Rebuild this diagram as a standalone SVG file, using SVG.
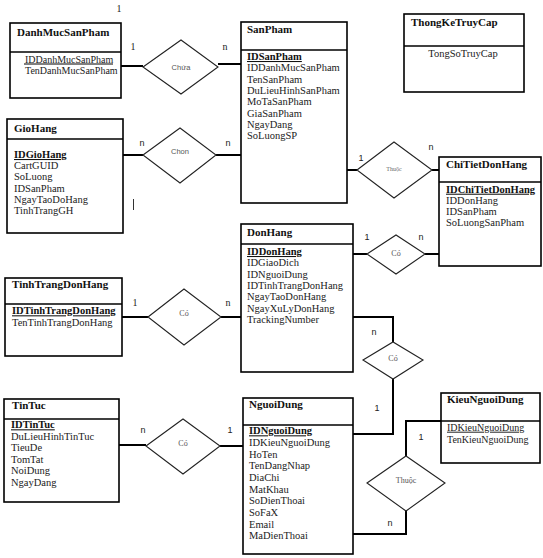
<svg xmlns="http://www.w3.org/2000/svg" width="543" height="558" viewBox="0 0 543 558">
<style>
.box{fill:#fff;stroke:#000;stroke-width:1.6}
.div{stroke:#000;stroke-width:1.6}
.t{font-family:"Liberation Serif",serif;font-size:11px;font-weight:bold;fill:#111}
.a{font-family:"Liberation Serif",serif;font-size:10.5px;fill:#222}
.a10{font-family:"Liberation Serif",serif;font-size:10px;fill:#222}
.k{font-family:"Liberation Serif",serif;font-size:10.5px;font-weight:bold;fill:#111;text-decoration:underline}
.ku{font-family:"Liberation Serif",serif;font-size:10px;fill:#222;text-decoration:underline}
.dm{fill:#fff;stroke:#222;stroke-width:1.1}
.dl{font-family:"Liberation Sans",sans-serif;font-size:7.5px;fill:#555;text-anchor:middle}
.ds{font-family:"Liberation Serif",serif;font-size:8px;fill:#555;text-anchor:middle}
.dt{font-family:"Liberation Serif",serif;font-size:6px;fill:#666;text-anchor:middle}
.c{font-family:"Liberation Sans",sans-serif;font-size:9px;fill:#222;text-anchor:middle}
.cs{font-family:"Liberation Serif",serif;font-size:10px;fill:#222;text-anchor:middle}
.ln{fill:none;stroke:#000;stroke-width:2}
</style>

<g id="connectors">
<line class="ln" x1="121" y1="66" x2="143" y2="66"/>
<line class="ln" x1="218" y1="64" x2="241" y2="64"/>
<line class="ln" x1="123" y1="155" x2="143" y2="155"/>
<line class="ln" x1="216" y1="155" x2="241" y2="155"/>
<line class="ln" x1="347" y1="170" x2="357" y2="170"/>
<line class="ln" x1="432" y1="170" x2="439" y2="170"/>
<line class="ln" x1="353" y1="254" x2="367" y2="254"/>
<line class="ln" x1="425" y1="254" x2="439" y2="254"/>
<line class="ln" x1="122" y1="317" x2="148" y2="317"/>
<line class="ln" x1="221" y1="317" x2="241" y2="317"/>
<polyline class="ln" points="353,317 393,317 393,342"/>
<polyline class="ln" points="393,379 393,434 353,434"/>
<line class="ln" x1="119" y1="445" x2="146" y2="445"/>
<line class="ln" x1="220" y1="446" x2="243" y2="446"/>
<polyline class="ln" points="353,534 406,534 406,511"/>
<polyline class="ln" points="406,456 406,421 441,421"/>
<line x1="133.5" y1="199" x2="133.5" y2="210" stroke="#333" stroke-width="1"/>
</g>

<text class="cs" x="119" y="12">1</text>

<g id="DanhMucSanPham">
<rect class="box" x="10" y="23" width="111" height="75"/>
<line class="div" x1="10" y1="52" x2="121" y2="52"/>
<text class="t" x="17" y="36">DanhMucSanPham</text>
<text class="a10" x="25" y="62.5">IDDanhMucSanPham</text>
<line x1="24" y1="64" x2="113" y2="64" stroke="#000" stroke-width="1"/>
<text class="a10" x="25" y="73.5">TenDanhMucSanPham</text>
</g>

<g id="Chua">
<polygon class="dm" points="143,67 181,40 218,67 181,94"/>
<text class="dl" x="181" y="70">Chứa</text>
<text class="cs" x="133" y="50">1</text>
<text class="cs" x="225" y="50">n</text>
</g>

<g id="SanPham">
<rect class="box" x="241" y="22" width="106" height="181"/>
<line class="div" x1="241" y1="50" x2="347" y2="50"/>
<text class="t" x="247" y="32.5">SanPham</text>
<text class="k" x="247" y="60">IDSanPham</text>
<text class="a" x="247" y="71.3">IDDanhMucSanPham</text>
<text class="a" x="247" y="82.7">TenSanPham</text>
<text class="a" x="247" y="94">DuLieuHinhSanPham</text>
<text class="a" x="247" y="105.3">MoTaSanPham</text>
<text class="a" x="247" y="116.7">GiaSanPham</text>
<text class="a" x="247" y="128">NgayDang</text>
<text class="a" x="247" y="139.3">SoLuongSP</text>
</g>

<g id="ThongKeTruyCap">
<rect class="box" x="404" y="14" width="120" height="78"/>
<line class="div" x1="404" y1="46" x2="524" y2="46"/>
<text class="t" x="411" y="25.5">ThongKeTruyCap</text>
<text class="a" x="463" y="57" text-anchor="middle">TongSoTruyCap</text>
</g>

<g id="GioHang">
<rect class="box" x="7" y="119" width="116" height="114"/>
<line class="div" x1="7" y1="139" x2="123" y2="139"/>
<text class="t" x="14" y="131.5">GioHang</text>
<text class="k" x="14" y="158">IDGioHang</text>
<text class="a" x="14" y="169">CartGUID</text>
<text class="a" x="14" y="180.3">SoLuong</text>
<text class="a" x="14" y="191.6">IDSanPham</text>
<text class="a" x="14" y="203">NgayTaoDoHang</text>
<text class="a" x="14" y="214.3">TinhTrangGH</text>
</g>

<g id="Chon">
<polygon class="dm" points="143,155 180,128 216,155 180,183"/>
<text class="dl" x="180" y="153.5">Chon</text>
<text class="c" x="142" y="146">n</text>
<text class="c" x="228" y="146">n</text>
</g>

<g id="Thuoc1">
<polygon class="dm" points="357,170 394,142 432,170 394,198"/>
<text class="dt" x="394" y="171">Thuộc</text>
<text class="c" x="361" y="161">1</text>
<text class="c" x="431" y="150">n</text>
</g>

<g id="ChiTietDonHang">
<rect class="box" x="439" y="157" width="102" height="109"/>
<line class="div" x1="439" y1="182" x2="541" y2="182"/>
<text class="t" x="446" y="168.3">ChiTietDonHang</text>
<text class="k" x="446" y="192.7">IDChiTietDonHang</text>
<text class="a" x="446" y="203.9">IDDonHang</text>
<text class="a" x="446" y="215.1">IDSanPham</text>
<text class="a" x="446" y="226.3">SoLuongSanPham</text>
</g>

<g id="DonHang">
<rect class="box" x="241" y="224" width="112" height="148"/>
<line class="div" x1="241" y1="244" x2="353" y2="244"/>
<text class="t" x="247" y="235.7">DonHang</text>
<text class="k" x="247" y="255">IDDonHang</text>
<text class="a" x="247" y="266.3">IDGiaoDich</text>
<text class="a" x="247" y="277.6">IDNguoiDung</text>
<text class="a" x="247" y="289">IDTinhTrangDonHang</text>
<text class="a" x="247" y="300.3">NgayTaoDonHang</text>
<text class="a" x="247" y="311.6">NgayXuLyDonHang</text>
<text class="a" x="247" y="323">TrackingNumber</text>
</g>

<g id="Co1">
<polygon class="dm" points="367,254 396,235 425,254 396,274"/>
<text class="ds" x="396" y="256">Có</text>
<text class="c" x="367" y="240">1</text>
<text class="c" x="421" y="240">n</text>
</g>

<g id="TinhTrangDonHang">
<rect class="box" x="5" y="278" width="117" height="78"/>
<line class="div" x1="5" y1="304" x2="122" y2="304"/>
<text class="t" x="12" y="288.3">TinhTrangDonHang</text>
<text class="k" x="12" y="314.3">IDTinhTrangDonHang</text>
<text class="a" x="12" y="325.7">TenTinhTrangDonHang</text>
</g>

<g id="Co2">
<polygon class="dm" points="148,317 184,289 221,317 184,345"/>
<text class="ds" x="184" y="315.5">Có</text>
<text class="cs" x="135" y="306">1</text>
<text class="cs" x="228" y="306">n</text>
</g>

<g id="Co3">
<polygon class="dm" points="363,360 393,342 423,360 393,379"/>
<text class="ds" x="393" y="361">Có</text>
<text class="c" x="374" y="335">n</text>
<text class="c" x="377" y="411">1</text>
</g>

<g id="TinTuc">
<rect class="box" x="4" y="399" width="115" height="103"/>
<line class="div" x1="4" y1="419" x2="119" y2="419"/>
<text class="t" x="12" y="409.3">TinTuc</text>
<text class="k" x="11" y="428.3">IDTinTuc</text>
<text class="a" x="11" y="439.8">DuLieuHinhTinTuc</text>
<text class="a" x="11" y="451.3">TieuDe</text>
<text class="a" x="11" y="462.8">TomTat</text>
<text class="a" x="11" y="474.3">NoiDung</text>
<text class="a" x="11" y="485.8">NgayDang</text>
</g>

<g id="Co4">
<polygon class="dm" points="146,446 183,419 220,446 183,474"/>
<text class="ds" x="183" y="445.5">Có</text>
<text class="c" x="143" y="433">n</text>
<text class="c" x="230" y="433">1</text>
</g>

<g id="NguoiDung">
<rect class="box" x="243" y="398" width="110" height="156"/>
<line class="div" x1="243" y1="425" x2="353" y2="425"/>
<text class="t" x="249" y="408.3">NguoiDung</text>
<text class="k" x="249" y="434.3">IDNguoiDung</text>
<text class="a" x="249" y="446">IDKieuNguoiDung</text>
<text class="a" x="249" y="457.7">HoTen</text>
<text class="a" x="249" y="469.4">TenDangNhap</text>
<text class="a" x="249" y="481">DiaChi</text>
<text class="a" x="249" y="492.7">MatKhau</text>
<text class="a" x="249" y="504.4">SoDienThoai</text>
<text class="a" x="249" y="516">SoFaX</text>
<text class="a" x="249" y="527.7">Email</text>
<text class="a" x="249" y="539.4">MaDienThoai</text>
</g>

<g id="Thuoc2">
<polygon class="dm" points="367,483 406,456 445,483 406,511"/>
<text class="ds" x="406" y="483">Thuộc</text>
<text class="c" x="421" y="440">1</text>
<text class="c" x="390" y="526">n</text>
</g>

<g id="KieuNguoiDung">
<rect class="box" x="441" y="393" width="99" height="70"/>
<line class="div" x1="441" y1="421" x2="540" y2="421"/>
<text class="t" x="447" y="402.7">KieuNguoiDung</text>
<text class="ku" x="447" y="430.7">IDKieuNguoiDung</text>
<text class="a10" x="447" y="442.7">TenKieuNguoiDung</text>
</g>
</svg>
